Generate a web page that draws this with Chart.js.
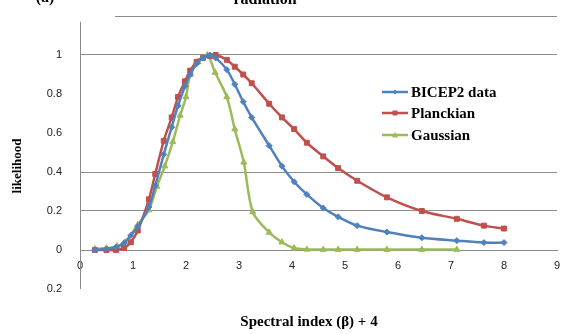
<!DOCTYPE html>
<html>
<head>
<meta charset="utf-8">
<script src="https://cdn.jsdelivr.net/npm/chart.js@4/dist/chart.umd.min.js"></script>
<style>
html,body{margin:0;padding:0;background:#fff;}
#wrap{width:570px;height:334px;position:relative;}
</style>
</head>
<body>
<div id="wrap"><canvas id="c" width="570" height="334"></canvas></div>
<script>
const seriesNames = ['BICEP2 data', 'Planckian', 'Gaussian'];
const bicepX = [0.28,0.5,0.68,0.83,0.96,1.09,1.3,1.42,1.58,1.73,1.85,1.98,2.08,2.2,2.32,2.45,2.56,2.77,2.92,3.08,3.24,3.57,3.81,4.04,4.28,4.59,4.87,5.23,5.79,6.45,7.11,7.62,8.0];
const bicepY = [0,0.005,0.015,0.035,0.075,0.12,0.22,0.33,0.49,0.63,0.74,0.84,0.9,0.955,0.985,1.0,0.985,0.925,0.85,0.76,0.68,0.535,0.43,0.35,0.285,0.215,0.17,0.125,0.092,0.063,0.048,0.038,0.038];
const planckX = [0.28,0.5,0.68,0.83,0.96,1.09,1.3,1.42,1.58,1.73,1.85,1.98,2.08,2.2,2.32,2.45,2.56,2.77,2.92,3.08,3.24,3.57,3.81,4.04,4.28,4.59,4.87,5.23,5.79,6.45,7.11,7.62,8.0];
const planckY = [0,0,0,0.01,0.04,0.10,0.26,0.39,0.56,0.68,0.785,0.865,0.92,0.965,0.985,0.995,1.0,0.975,0.94,0.90,0.855,0.75,0.68,0.62,0.55,0.48,0.42,0.355,0.27,0.20,0.16,0.125,0.11];
const gaussX = [0.28,0.5,0.7,0.85,1.09,1.3,1.45,1.6,1.75,1.89,2.0,2.08,2.23,2.40,2.55,2.77,2.92,3.09,3.26,3.57,3.81,4.04,4.28,4.59,4.87,5.23,5.79,6.45,7.11];
const gaussY = [0.005,0.01,0.02,0.04,0.13,0.205,0.325,0.43,0.555,0.69,0.785,0.90,0.965,1.0,0.91,0.785,0.62,0.45,0.195,0.09,0.04,0.01,0.003,0.002,0.002,0.002,0.002,0.002,0.002];
const xTicks = [0,1,2,3,4,5,6,7,8,9];
const yTicks = [-0.2,0,0.2,0.4,0.6,0.8,1,1.2];
const yTickLabels = ['0.2','0','0.2','0.4','0.6','0.8','1',''];
const yGridShown = [0,0.2,0.4,1];
const xTitle = 'Spectral index (β) + 4';
const yTitle = 'likelihood';
const topTitle = 'radiation';
const panelLabel = '(a)';

const colors = ['#4F81BD', '#C0504D', '#9BBB59'];
const styles = ['rectRot', 'rect', 'triangle'];
const radii = [3, 3.5, 3.5];

function pts(xs, ys){ return xs.map((x,i)=>({x:x, y:ys[i]})); }
const allX = [bicepX, planckX, gaussX];
const allY = [bicepY, planckY, gaussY];

const datasets = seriesNames.map((n,i)=>({
  label: n,
  data: pts(allX[i], allY[i]),
  borderColor: colors[i],
  backgroundColor: colors[i],
  borderWidth: 2.5,
  pointStyle: styles[i],
  pointRadius: radii[i],
  pointBorderWidth: 1,
  tension: 0.3,
  showLine: true,
  fill: false
}));

const SERIF = '"Liberation Serif", "Times New Roman", serif';

const extras = {
  id: 'extras',
  afterDraw(chart){
    const ctx = chart.ctx;
    const xs = chart.scales.x, ys = chart.scales.y;
    ctx.save();
    ctx.strokeStyle = '#8c8c8c';
    ctx.lineWidth = 1;
    const yTop = Math.round(ys.getPixelForValue(1.2)) + 0.5;
    ctx.beginPath(); ctx.moveTo(115, yTop); ctx.lineTo(chart.chartArea.right, yTop); ctx.stroke();
    const xl = Math.round(xs.getPixelForValue(0)) + 0.5;
    ctx.beginPath(); ctx.moveTo(xl, ys.getPixelForValue(1.17)); ctx.lineTo(xl, ys.getPixelForValue(-0.2)); ctx.stroke();
    ctx.fillStyle = '#000';
    ctx.font = 'bold 16px ' + SERIF;
    ctx.textAlign = 'center';
    ctx.textBaseline = 'alphabetic';
    ctx.fillText(topTitle, 265, 4);
    ctx.fillText(panelLabel, 45, 2);
    ctx.font = 'bold 15px ' + SERIF;
    ctx.textBaseline = 'middle';
    ctx.fillText(xTitle, 309, 322);
    ctx.font = 'bold 13px ' + SERIF;
    ctx.save();
    ctx.translate(18, 166);
    ctx.rotate(-Math.PI/2);
    ctx.fillText(yTitle, 0, 0);
    ctx.restore();
    const legY = [92, 113, 135];
    ctx.font = 'bold 15px ' + SERIF;
    ctx.textAlign = 'left';
    seriesNames.forEach((n,i)=>{
      ctx.strokeStyle = colors[i];
      ctx.lineWidth = 2.5;
      ctx.beginPath(); ctx.moveTo(382, legY[i]); ctx.lineTo(408, legY[i]); ctx.stroke();
      ctx.fillStyle = colors[i];
      const cx = 395, cy = legY[i], r = 2.5;
      ctx.beginPath();
      if (i === 0) { ctx.moveTo(cx, cy-r); ctx.lineTo(cx+r, cy); ctx.lineTo(cx, cy+r); ctx.lineTo(cx-r, cy); ctx.closePath(); }
      else if (i === 1) { ctx.rect(cx-r, cy-r, 2*r, 2*r); }
      else { ctx.moveTo(cx, cy-r-0.5); ctx.lineTo(cx+r+0.5, cy+r); ctx.lineTo(cx-r-0.5, cy+r); ctx.closePath(); }
      ctx.fill();
      ctx.fillStyle = '#000';
      ctx.fillText(n, 411, legY[i] + 1);
    });
    ctx.restore();
  }
};

new Chart(document.getElementById('c'), {
  type: 'scatter',
  data: { datasets },
  plugins: [extras],
  options: {
    responsive: false,
    animation: false,
    layout: { padding: { top: 16, right: 13, bottom: 45, left: 0 } },
    plugins: { legend: { display: false }, tooltip: { enabled: false }, title: { display: false } },
    scales: {
      x: {
        type: 'linear',
        position: { y: 0 },
        min: 0, max: 9,
        afterBuildTicks: s => { s.ticks = xTicks.map(v=>({value:v})); },
        afterFit: s => { s.height = 0; s.paddingLeft = 0; s.paddingRight = 0; },
        grid: { display: false, drawTicks: false },
        border: { display: true, color: '#8c8c8c', width: 1 },
        ticks: { padding: 9, color: '#222', font: { family: '"Liberation Sans", Arial, sans-serif', size: 11 }, maxRotation: 0, autoSkip: false }
      },
      y: {
        type: 'linear',
        min: -0.2, max: 1.2,
        afterBuildTicks: s => { s.ticks = yTicks.map(v=>({value:v})); },
        afterFit: s => { s.width = 80; s.paddingTop = 0; s.paddingBottom = 0; },
        grid: {
          drawTicks: false,
          color: c => (c.tick && yGridShown.some(v=>Math.abs(v - c.tick.value) < 1e-6)) ? '#8c8c8c' : 'rgba(0,0,0,0)',
          lineWidth: 1
        },
        border: { display: false },
        ticks: {
          padding: 18,
          color: '#222',
          font: { family: '"Liberation Sans", Arial, sans-serif', size: 11 },
          callback: (v, i) => { const k = yTicks.findIndex(t=>Math.abs(t-v)<1e-6); return k >= 0 ? yTickLabels[k] : ''; }
        }
      }
    }
  }
});
</script>
</body>
</html>
